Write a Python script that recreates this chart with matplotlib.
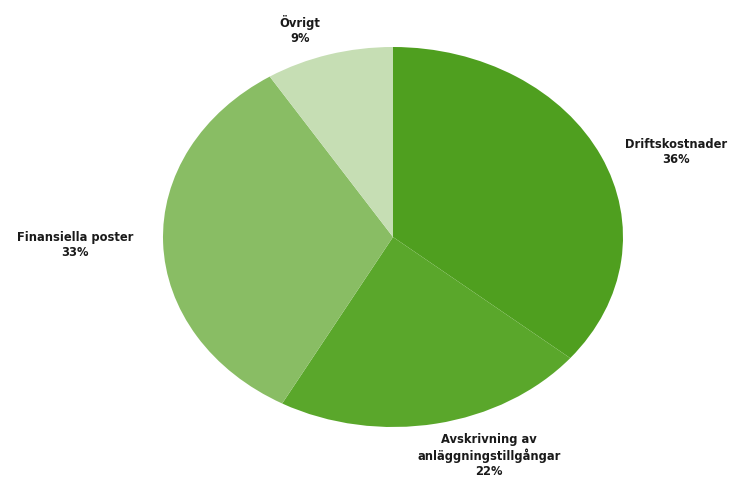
import matplotlib.pyplot as plt

labels = ["Driftskostnader", "Avskrivning av\nanläggningstillgångar", "Finansiella poster", "Övrigt"]
shares = [36, 22, 33, 9]
colors = ["#4f9f1f", "#5aa72b", "#89bd64", "#c6deb4"]

# label anchor points (data units, pie radius = 1)
label_pos = [(1.23, 0.447), (0.417, -1.15), (-1.383, -0.042), (-0.404, 1.089)]

fig = plt.figure(figsize=(7.34, 4.8), dpi=100)
ax = fig.add_axes([0, 0, 1, 1])

ax.pie(shares, colors=colors, startangle=90, counterclock=False,
       wedgeprops=dict(linewidth=0))

# stretch the pie into an ellipse like the original
ax.set_aspect("auto")
ax.set_xlim(-393 / 230, (734 - 393) / 230)
ax.set_ylim(-243 / 190, 237 / 190)
ax.axis("off")

for lab, s, (x, y) in zip(labels, shares, label_pos):
    ax.text(x, y, f"{lab}\n{s}%", ha="center", va="center",
            fontsize=8.3, fontweight="bold", family="DejaVu Sans",
            color="#1a1a1a", linespacing=1.22)

fig.savefig("out.png", dpi=100)
